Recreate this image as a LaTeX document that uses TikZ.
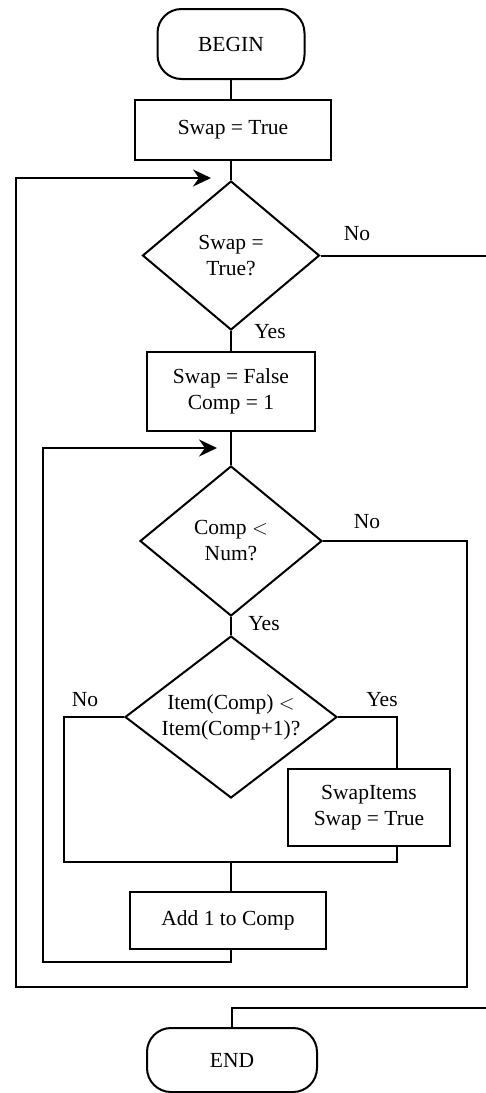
\documentclass[tikz,border=0pt]{standalone}
\usepackage{fontspec}
\setmainfont{Liberation Serif}
\usetikzlibrary{shapes.geometric,arrows.meta}
\begin{document}
\begin{tikzpicture}[x=1pt,y=-1pt,
  every node/.style={font=\fontsize{21.5}{26}\selectfont},
  line/.style={line width=2pt},
  arr/.style={line width=2pt,-{Stealth[length=18pt,width=17pt,inset=6pt]}},
  term/.style={draw,line width=2pt,rectangle,rounded corners=24pt,minimum width=#1,minimum height=70pt,inner sep=0pt},
  procbox/.style={draw,line width=2pt,rectangle,align=center,inner sep=0pt},
  decision/.style={draw,line width=2pt,diamond,align=center,inner sep=0pt},
  lbl/.style={inner sep=0pt}]
\useasboundingbox (0,0) rectangle (486,1093);
% nodes
\node[term=147pt] (begin) at (231,44) {BEGIN};
\node[procbox,minimum width=196pt,minimum height=60pt] (s1) at (233,130) {Swap = True};
\node[decision,minimum width=177pt,minimum height=149pt,aspect=1.19] (d1) at (231,255.5) {Swap =\\True?};
\node[procbox,minimum width=168pt,minimum height=79pt] (s2) at (231,391.5) {Swap = False\\Comp = 1};
\node[decision,minimum width=182pt,minimum height=150pt,aspect=1.21] (d2) at (231,541) {Comp $<$\\Num?};
\node[decision,minimum width=212pt,minimum height=162pt,aspect=1.31] (d3) at (231,717) {Item(Comp) $<$\\Item(Comp+1)?};
\node[procbox,minimum width=162pt,minimum height=77pt] (s3) at (369,807.5) {SwapItems\\Swap = True};
\node[procbox,minimum width=196pt,minimum height=57pt] (s4) at (228,920.5) {Add 1 to Comp};
\node[term=170pt,minimum height=64pt] (end) at (232,1060) {END};
% labels
\node[lbl] (no1) at (357,234) {No};
\node[lbl] (yes1) at (270,332) {Yes};
\node[lbl] (no2) at (367,522) {No};
\node[lbl] (yes2) at (264,624) {Yes};
\node[lbl] (no3) at (85,700) {No};
\node[lbl] (yes3) at (382,700) {Yes};
% coordinates
\coordinate (outR) at (467,541);
\coordinate (outRB) at (467,987);
\coordinate (outLB) at (16,987);
\coordinate (outLT) at (16,178);
\coordinate (tip1) at (211,178);
\coordinate (inB) at (231,962);
\coordinate (inLB) at (43,962);
\coordinate (inLT) at (43,448);
\coordinate (tip2) at (217,448);
\coordinate (d3L) at (64,717);
\coordinate (joinL) at (64,862);
\coordinate (d3R) at (397,717);
\coordinate (joinR) at (397,862);
\coordinate (joinM) at (231,862);
\coordinate (exitA) at (486,255.5);
\coordinate (exitB) at (486,1008);
\coordinate (endT) at (232,1008);
% connectors
\draw[line] (begin.south) -- (s1.north -| begin.south);
\draw[line] (s1.south -| d1.north) -- (d1.north);
\draw[line] (d1.south) -- (s2.north);
\draw[line] (s2.south) -- (d2.north);
\draw[line] (d2.south) -- (d3.north);
\draw[line] (d1.east) -- (exitA);
\draw[line] (exitB) -- (endT) -- (end.north);
\draw[arr] (d2.east) -- (outR) -- (outRB) -- (outLB) -- (outLT) -- (tip1);
\draw[arr] (s4.south -| inB) -- (inB) -- (inLB) -- (inLT) -- (tip2);
\draw[line] (d3.west) -- (d3L) -- (joinL) -- (joinR) -- (s3.south -| joinR);
\draw[line] (d3.east) -- (d3R) -- (s3.north -| d3R);
\draw[line] (joinM) -- (s4.north -| joinM);
\end{tikzpicture}
\end{document}
